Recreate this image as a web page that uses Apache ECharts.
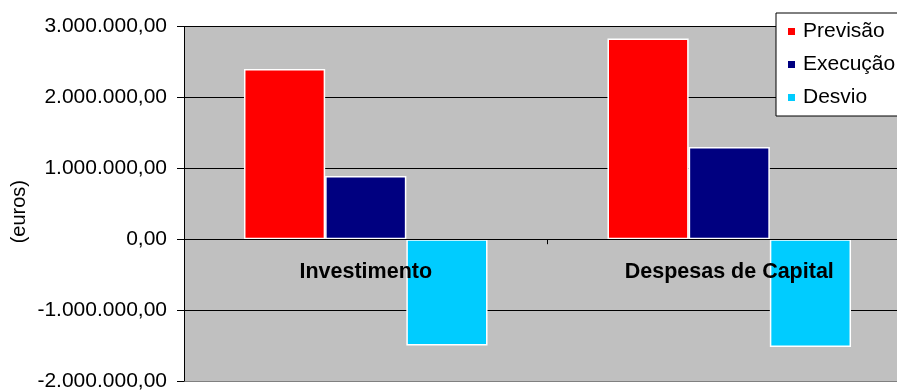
<!DOCTYPE html>
<html>
<head>
<meta charset="utf-8">
<script src="https://cdn.jsdelivr.net/npm/echarts@6/dist/echarts.min.js"></script>
<style>
  html, body { margin: 0; padding: 0; background: #fff; }
  #chart { width: 897px; height: 390px; }
</style>
</head>
<body>
<div id="chart"></div>
<script>
// Budget comparison: forecast vs. execution and the resulting deviation (euros)
const categories = ['Investimento', 'Despesas de Capital'];
const previsao = [2400000, 2830000];
const execucao = [890000, 1300000];
const desvio = [-1500000, -1520000];
const yTicks = { min: -2000000, max: 3000000, step: 1000000 };

const FONT = '"Liberation Sans", Arial, sans-serif';

// Portuguese number format: 1.000.000,00
function fmtEuro(v) {
  const neg = v < 0;
  const s = Math.abs(Math.round(v)).toString();
  const grouped = s.replace(/\B(?=(\d{3})+(?!\d))/g, '.');
  return (neg ? '-' : '') + grouped + ',00';
}

const GRID = { left: 184, top: 26.5, width: 727, height: 354.5 };
// shift the category axis up from the grid bottom to the zero line
const zeroOffset = -GRID.height * (0 - yTicks.min) / (yTicks.max - yTicks.min);

const chart = echarts.init(document.getElementById('chart'), null, { renderer: 'canvas' });

const barStyle = (color) => ({ color: color, borderColor: '#ffffff', borderWidth: 1.5 });

chart.setOption({
  backgroundColor: '#ffffff',
  animation: false,
  textStyle: { fontFamily: FONT },
  grid: Object.assign({
    outerBoundsMode: 'none',
    containLabel: false,
    show: true, backgroundColor: '#c0c0c0', borderWidth: 0
  }, GRID),
  legend: {
    orient: 'vertical',
    left: 776, top: 13,
    backgroundColor: '#ffffff',
    borderColor: '#000000', borderWidth: 1,
    padding: [8, 10, 8, 10],
    itemWidth: 9, itemHeight: 9, itemGap: 12,
    icon: 'rect',
    textStyle: { fontFamily: FONT, fontSize: 21, color: '#000', padding: [0, 0, 0, 2] },
    data: ['Previsão', 'Execução', 'Desvio']
  },
  graphic: [{
    type: 'text',
    left: 9, top: 180,
    rotation: Math.PI / 2,
    style: { text: '(euros)', font: '20px ' + FONT, fill: '#000' }
  }],
  xAxis: {
    type: 'category',
    data: categories,
    position: 'bottom',
    offset: zeroOffset,
    z: 10,
    axisLine: { onZero: false, lineStyle: { color: '#000', width: 1 } },
    axisTick: { show: true, length: 5, lineStyle: { color: '#000' } },
    axisLabel: { fontFamily: FONT, fontSize: 21.5, fontWeight: 'bold', color: '#000', margin: 22 },
    splitLine: { show: false }
  },
  yAxis: {
    type: 'value',
    min: yTicks.min, max: yTicks.max, interval: yTicks.step,
    axisLine: { show: true, lineStyle: { color: '#000', width: 1 } },
    axisTick: { show: true, length: 7, lineStyle: { color: '#000' } },
    axisLabel: { fontFamily: FONT, fontSize: 21, color: '#000', margin: 17, formatter: fmtEuro },
    // bottom edge of the plot is grey, the other gridlines black
    splitLine: { show: true, lineStyle: { color: ['#808080', '#000', '#000', '#000', '#000', '#000'], width: 1 } }
  },
  series: [
    { name: 'Previsão', type: 'bar', data: previsao, itemStyle: barStyle('#ff0000'),
      barGap: '0%', barCategoryGap: '33%' },
    { name: 'Execução', type: 'bar', data: execucao, itemStyle: barStyle('#000080') },
    { name: 'Desvio', type: 'bar', data: desvio, itemStyle: barStyle('#00ccff') }
  ]
});
</script>
</body>
</html>
